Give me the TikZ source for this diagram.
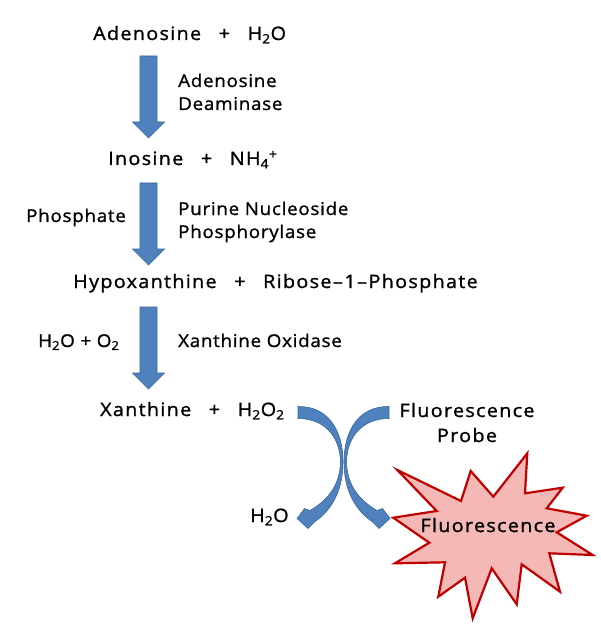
\documentclass[tikz,border=0pt]{standalone}
\usepackage{fontspec}
\setmainfont[LetterSpace=7,FakeBold=1.2,FakeStretch=1.07]{Open Sans}
\definecolor{arrowfill}{HTML}{4F81BD}
\definecolor{arrowline}{HTML}{3A679C}
\definecolor{starfill}{HTML}{F4B8B6}
\definecolor{starline}{HTML}{C00000}
\newcommand\plusgap{\hspace{0.95em}+\hspace{0.95em}}
\newcommand\dsh{\hspace{0.08em}–\hspace{0.08em}}
\newcommand\curvedshape{%
  (298,406.5) .. controls (328,406) and (343,430) .. (343,462)
  .. controls (343,490) and (332,510) .. (315,521.5)
  -- (308,528.5) -- (297,518.5) -- (304.5,508.5) -- (310,510.5)
  .. controls (328,500) and (340,485) .. (340.5,462)
  .. controls (340,436) and (324,418.5) .. (298,418.5) -- cycle}
\begin{document}
\begin{tikzpicture}[x=1pt,y=-1pt,
  txt/.style={anchor=base west, inner sep=0pt, font=\fontsize{18.5}{22}\selectfont},
  ctxt/.style={anchor=base, inner sep=0pt, font=\fontsize{18.5}{22}\selectfont},
  lbl/.style={anchor=base west, inner sep=0pt, font=\fontsize{17.6}{20}\selectfont\addfontfeatures{LetterSpace=4}},
  blockarrow/.style={fill=arrowfill, draw=arrowline, line width=0.6pt, line join=miter},
  burst/.style={fill=starfill, draw=starline, line width=2.2pt, line join=miter}]
\useasboundingbox (0,0) rectangle (600,644);

% texts
\node[txt] (ado) at (93,40) {Adenosine\plusgap H\textsubscript{2}O};
\node[lbl] (ada1) at (178,87) {Adenosine};
\node[lbl] (ada2) at (178,110) {Deaminase};
\node[txt] (ino) at (108,165) {Inosine\plusgap NH\textsubscript{4}\textsuperscript{+}};
\node[lbl] (pho) at (26,222) {Phosphate};
\node[lbl] (pnp1) at (178,215) {Purine Nucleoside};
\node[lbl] (pnp2) at (178,238) {Phosphorylase};
\node[txt] (hyp) at (73,288) {Hypoxanthine\plusgap Ribose\dsh 1\dsh Phosphate};
\node[lbl] (wat) at (38,347) {H\textsubscript{2}O + O\textsubscript{2}};
\node[lbl] (xo) at (178,347) {Xanthine Oxidase};
\node[txt] (xan) at (100,416) {Xanthine\plusgap H\textsubscript{2}O\textsubscript{2}};
\node[ctxt] (fp1) at (467,417) {Fluorescence};
\node[ctxt] (fp2) at (467,442) {Probe};
\node[txt] (h2o) at (250,522) {H\textsubscript{2}O};

% straight block arrows
\foreach \t in {56,183,307}{
  \path[blockarrow] (140,\t) -- (157,\t) -- (157,\t+66) -- (164.5,\t+66)
    -- (148.5,\t+82) -- (132.5,\t+66) -- (140,\t+66) -- cycle;
}

% curved arrows
\path[blockarrow] \curvedshape;
\begin{scope}[shift={(687,0)}, xscale=-1]
\path[blockarrow] \curvedshape;
\end{scope}

% explosion
\path[burst] (397.3,470) -- (461,501) -- (470.7,471) -- (493.3,496.7)
  -- (527.3,453.3) -- (525,493.3) -- (562.7,487.7) -- (546.7,508.3)
  -- (586.7,515.7) -- (556.7,532.3) -- (592.7,555) -- (549.3,553.3)
  -- (560,591.7) -- (521.7,564.3) -- (516.7,604.3) -- (491.7,568.3)
  -- (472.7,618.3) -- (465,577.7) -- (438.3,596.7) -- (445,562.3)
  -- (395,563.3) -- (429.3,542.7) -- (393.3,517.7) -- (436.7,511) -- cycle;
\node[ctxt] (flu) at (488,532) {Fluorescence};
\end{tikzpicture}
\end{document}
